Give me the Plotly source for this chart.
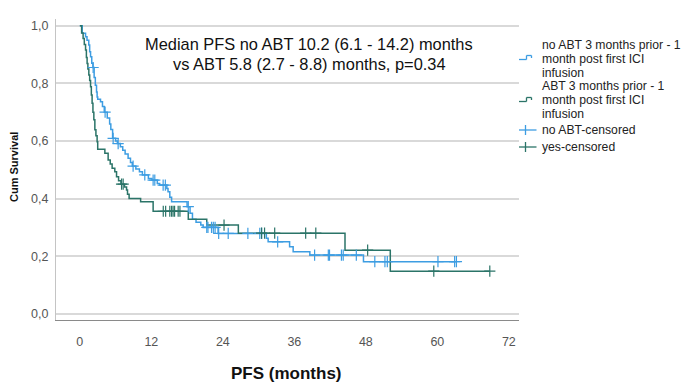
import plotly.graph_objects as go
import numpy as np

# ---- Data ----
# no ABT group: step times (months) and survival after each step
noabt_t = [0, 0.4, 0.96, 1.2, 1.5, 1.65, 1.8, 2.0, 2.2, 2.4, 2.6, 2.8, 2.9, 3.0, 3.47, 3.8, 4.1,
           4.6, 5.0, 5.2, 5.5, 6.0, 6.3, 6.8, 7.2, 7.6, 8.1, 8.5, 8.8, 9.4, 10.0, 10.5, 11.5,
           12.1, 13.0, 13.4, 14.6, 14.8, 15.1, 15.4, 18.0, 18.5, 18.9, 19.5, 20.3, 20.7, 23.2,
           31.3, 31.6, 35.2, 35.8, 38.6, 47.6]
noabt_s = [1.0, 0.974, 0.962, 0.95, 0.933, 0.91, 0.892, 0.87, 0.855, 0.82, 0.793, 0.77, 0.753,
           0.745, 0.736, 0.72, 0.70, 0.68, 0.659, 0.64, 0.609, 0.60, 0.591, 0.58, 0.568, 0.555,
           0.54, 0.525, 0.513, 0.503, 0.493, 0.482, 0.47, 0.464, 0.452, 0.447, 0.435, 0.424,
           0.405, 0.389, 0.372, 0.349, 0.328, 0.318, 0.308, 0.30, 0.279, 0.262, 0.25, 0.233,
           0.215, 0.204, 0.181]
noabt_end = 63.2
noabt_cens = [2.23, 4.24, 5.59, 6.43, 8.94, 10.9, 12.3, 12.58, 13.98, 14.35, 18.2, 21.3, 21.5,
              22.1, 22.4, 22.7, 23.3, 24.9, 28.2, 30.2, 30.5, 33.2, 39.4, 41.7, 41.9, 43.9,
              44.2, 46.4, 49.5, 51.2, 51.6, 60.1, 62.9, 63.2]

# ABT group
abt_t = [0, 0.3, 0.55, 0.75, 0.96, 1.1, 1.22, 1.35, 1.51, 1.65, 1.8, 1.93, 2.06, 2.2, 2.35,
         2.52, 2.7, 2.9, 3.0, 4.2, 4.75, 5.1, 5.42, 5.87, 6.16, 6.5, 6.9, 7.5, 7.84, 8.0, 8.27,
         10.2, 12.3, 18.2, 21.3, 26.6, 44.5, 52.1]
abt_s = [1.0, 0.975, 0.956, 0.935, 0.916, 0.89, 0.869, 0.85, 0.829, 0.81, 0.788, 0.76, 0.731,
         0.70, 0.674, 0.639, 0.618, 0.597, 0.571, 0.557, 0.534, 0.52, 0.505, 0.493, 0.476,
         0.462, 0.45, 0.44, 0.43, 0.415, 0.40, 0.389, 0.356, 0.328, 0.308, 0.28, 0.221, 0.148]
abt_end = 68.8
abt_cens = [7.0, 7.27, 14.0, 14.4, 15.1, 15.4, 15.65, 15.9, 16.5, 16.8, 24.2, 30.5, 31.0, 32.7,
            37.9, 39.6, 48.3, 59.4, 68.8]

x_ticks = [0, 12, 24, 36, 48, 60, 72]
y_ticks = [0.0, 0.2, 0.4, 0.6, 0.8, 1.0]
y_tick_labels = ["0,0", "0,2", "0,4", "0,6", "0,8", "1,0"]

legend_lines = [
    ["no ABT 3 months prior - 1", "month post first ICI", "infusion"],
    ["ABT 3 months prior - 1", "month post first ICI", "infusion"],
    ["no ABT-censored"],
    ["yes-censored"],
]
annotation_lines = ["Median PFS no ABT 10.2 (6.1 - 14.2) months",
                    "vs ABT 5.8 (2.7 - 8.8) months, p=0.34"]
x_title = "PFS (months)"
y_title = "Cum Survival"

BLUE = "#3d9de2"
GREEN = "#2b7468"
FONT = "Liberation Sans, Arial, sans-serif"

# ---- layout geometry (page pixels; the page body has an 8px margin) ----
OFF = 8
W, H = 689 - OFF, 383 - OFF
PLOT_X0, PLOT_X1, PLOT_Y0, PLOT_Y1 = 56, 519, 19, 320   # page pixels of plot area
L, R = PLOT_X0 - OFF, OFF + W - PLOT_X1
T, B = PLOT_Y0 - OFF, OFF + H - PLOT_Y1
PW, PH = PLOT_X1 - PLOT_X0, PLOT_Y1 - PLOT_Y0


def px(xp):
    return (xp - PLOT_X0) / PW


def py(yp):
    return (PLOT_Y1 - yp) / PH


def surv_at(ts, ss, t):
    idx = np.searchsorted(np.array(ts), t, side="right") - 1
    return ss[max(idx, 0)]


fig = go.Figure()
fig.add_trace(go.Scatter(x=noabt_t + [noabt_end], y=noabt_s + [noabt_s[-1]], mode="lines",
                         line=dict(color=BLUE, width=1.5, shape="hv"), showlegend=False))
fig.add_trace(go.Scatter(x=abt_t + [abt_end], y=abt_s + [abt_s[-1]], mode="lines",
                         line=dict(color=GREEN, width=1.5, shape="hv"), showlegend=False))
fig.add_trace(go.Scatter(x=noabt_cens, y=[surv_at(noabt_t, noabt_s, c) for c in noabt_cens],
                         mode="markers", showlegend=False,
                         marker=dict(symbol="cross-thin-open", size=8, color=BLUE,
                                     line=dict(color=BLUE, width=1.2))))
fig.add_trace(go.Scatter(x=abt_cens, y=[surv_at(abt_t, abt_s, c) for c in abt_cens],
                         mode="markers", showlegend=False,
                         marker=dict(symbol="cross-thin-open", size=8, color=GREEN,
                                     line=dict(color=GREEN, width=1.2))))

# median annotation (two lines)
for txt, yp in zip(annotation_lines, [44.3, 63.7]):
    fig.add_annotation(text=txt, xref="paper", yref="paper", x=px(309), y=py(yp),
                       xanchor="center", yanchor="middle", showarrow=False, borderpad=0,
                       font=dict(family=FONT, size=16.4, color="#111111"))

# axis titles
fig.add_annotation(text="<b>%s</b>" % x_title, xref="paper", yref="paper", x=px(286),
                   y=py(373), xanchor="center", yanchor="middle", showarrow=False,
                   font=dict(family=FONT, size=17, color="#111111"))
fig.add_annotation(text="<b>%s</b>" % y_title, xref="paper", yref="paper", x=px(14),
                   y=py(167), xanchor="center", yanchor="middle", showarrow=False,
                   textangle=-90, font=dict(family=FONT, size=11, color="#111111"))

# manual legend
legend_text_y = [[45, 59, 72.5], [86, 100, 114], [130], [147]]
for lines, ys in zip(legend_lines, legend_text_y):
    for txt, yp in zip(lines, ys):
        fig.add_annotation(text=txt, xref="paper", yref="paper", x=px(540.5), y=py(yp),
                           xanchor="left", yanchor="middle", showarrow=False, borderpad=0,
                           font=dict(family=FONT, size=12.2, color="#222222"))

shapes = []
for col, lo, hi in [(BLUE, 59.5, 55.5), (GREEN, 101.5, 97.5)]:
    pts = [(519, lo), (526.5, lo), (526.5, hi), (531.5, hi), (531.5, lo - 1.5)]
    for (x0, y0), (x1, y1) in zip(pts[:-1], pts[1:]):
        shapes.append(dict(type="line", xref="paper", yref="paper", x0=px(x0), y0=py(y0),
                           x1=px(x1), y1=py(y1), line=dict(color=col, width=1.3)))
for col, yc in [(BLUE, 130), (GREEN, 147)]:
    shapes.append(dict(type="line", xref="paper", yref="paper", x0=px(519), y0=py(yc),
                       x1=px(536.5), y1=py(yc), line=dict(color=col, width=1.3)))
    shapes.append(dict(type="line", xref="paper", yref="paper", x0=px(525.5), y0=py(yc - 5),
                       x1=px(525.5), y1=py(yc + 5), line=dict(color=col, width=1.3)))

fig.update_layout(
    width=W, height=H,
    margin=dict(l=L, r=R, t=T, b=B, autoexpand=False),
    paper_bgcolor="white", plot_bgcolor="white",
    font=dict(family=FONT, color="#222222"),
    showlegend=False,
    shapes=shapes,
    xaxis=dict(range=[-4.0, 73.7], tickvals=x_ticks, showgrid=False, zeroline=False,
               showline=True, linecolor="#8a8a8a", linewidth=1, ticks="", automargin=False,
               ticklabelstandoff=10, tickfont=dict(size=12.5, color="#555555")),
    yaxis=dict(range=[-0.0215, 1.0234], tickvals=y_ticks, ticktext=y_tick_labels,
               showgrid=True, gridcolor="#d9d9d9", gridwidth=1.5, zeroline=False,
               showline=True, linecolor="#c4c4c4", linewidth=1, ticks="", automargin=False,
               ticklabelstandoff=4, tickfont=dict(size=12.5, color="#555555")),
)

fig.write_html("out.html")
